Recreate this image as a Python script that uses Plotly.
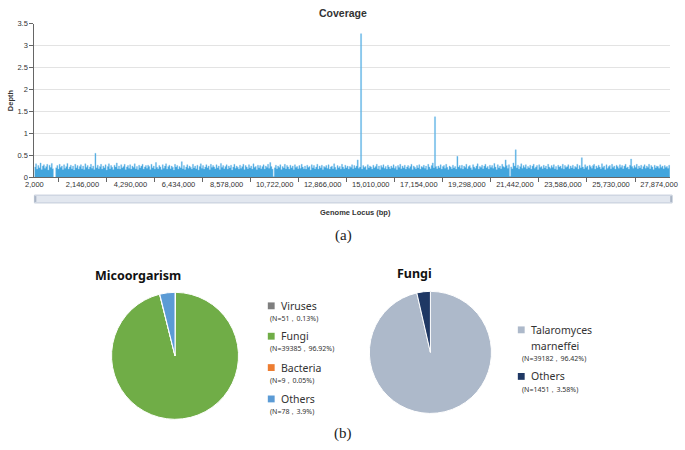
import plotly.graph_objects as go

# ---------------- data ----------------
bin_start = 2000
bin_size = 50000
depth = [
    0.24,0.31,0.19,0.27,0.22,0.33,0.18,0.26,0.29,0.21,0.25,0.3,0.17,0.28,0.23,0.32,0.2,0.0,0.0,0.22,
    0.27,0.19,0.3,0.23,0.26,0.18,0.29,0.21,0.25,0.32,0.19,0.24,0.28,0.2,0.26,0.17,0.3,0.22,0.27,0.19,
    0.25,0.29,0.2,0.26,0.18,0.31,0.23,0.27,0.19,0.24,0.3,0.21,0.26,0.18,0.55,0.22,0.28,0.2,0.25,0.3,
    0.19,0.26,0.22,0.29,0.17,0.25,0.31,0.2,0.27,0.23,0.18,0.28,0.24,0.33,0.2,0.26,0.19,0.29,0.22,0.25,
    0.3,0.18,0.24,0.27,0.21,0.29,0.19,0.26,0.23,0.31,0.2,0.25,0.18,0.28,0.22,0.26,0.3,0.19,0.24,0.27,
    0.21,0.28,0.25,0.18,0.3,0.22,0.26,0.19,0.34,0.23,0.2,0.27,0.24,0.18,0.29,0.21,0.26,0.31,0.19,0.25,
    0.28,0.2,0.26,0.23,0.17,0.3,0.24,0.27,0.19,0.25,0.22,0.36,0.2,0.27,0.18,0.24,0.29,0.21,0.26,0.23,
    0.19,0.3,0.22,0.26,0.2,0.28,0.17,0.25,0.31,0.21,0.27,0.19,0.24,0.29,0.22,0.26,0.18,0.3,0.23,0.27,
    0.24,0.2,0.29,0.22,0.26,0.18,0.32,0.23,0.27,0.2,0.25,0.29,0.19,0.26,0.22,0.28,0.17,0.24,0.3,0.21,
    0.26,0.23,0.19,0.28,0.21,0.25,0.3,0.18,0.27,0.24,0.2,0.29,0.22,0.26,0.19,0.31,0.23,0.25,0.18,0.28,
    0.22,0.27,0.2,0.25,0.29,0.19,0.26,0.23,0.3,0.21,0.34,0.25,0.19,0.02,0.22,0.28,0.2,0.26,0.23,0.29,
    0.18,0.25,0.22,0.3,0.2,0.27,0.24,0.19,0.28,0.22,0.26,0.18,0.29,0.23,0.25,0.2,0.27,0.21,0.3,0.24,
    0.2,0.26,0.19,0.28,0.23,0.25,0.17,0.29,0.22,0.27,0.2,0.24,0.3,0.19,0.26,0.22,0.28,0.18,0.25,0.23,
    0.27,0.21,0.29,0.19,0.24,0.26,0.2,0.31,0.23,0.18,0.27,0.22,0.25,0.19,0.3,0.24,0.2,0.28,0.22,0.26,
    0.19,0.25,0.23,0.29,0.2,0.27,0.22,0.26,0.4,0.21,0.24,3.27,0.19,0.27,0.23,0.25,0.18,0.29,0.22,0.26,
    0.24,0.19,0.28,0.22,0.25,0.3,0.2,0.26,0.18,0.27,0.23,0.29,0.21,0.25,0.19,0.28,0.24,0.2,0.26,0.22,
    0.29,0.21,0.25,0.18,0.27,0.23,0.3,0.2,0.26,0.22,0.28,0.19,0.24,0.27,0.21,0.25,0.3,0.18,0.26,0.23,
    0.2,0.27,0.22,0.29,0.19,0.25,0.23,0.28,0.21,0.26,0.18,0.3,0.24,0.2,0.27,0.33,0.22,1.38,0.25,0.2,
    0.26,0.22,0.29,0.19,0.25,0.27,0.21,0.3,0.23,0.18,0.26,0.24,0.2,0.28,0.22,0.25,0.19,0.48,0.24,0.27,
    0.21,0.28,0.19,0.26,0.23,0.3,0.2,0.25,0.27,0.22,0.18,0.29,0.24,0.21,0.26,0.31,0.19,0.25,0.23,0.28,
    0.2,0.26,0.3,0.22,0.25,0.19,0.28,0.23,0.27,0.21,0.32,0.24,0.18,0.29,0.22,0.26,0.2,0.3,0.25,0.23,
    0.4,0.27,0.21,0.29,0.03,0.24,0.2,0.33,0.26,0.63,0.22,0.28,0.19,0.25,0.31,0.21,0.27,0.23,0.29,0.2,
    0.25,0.22,0.28,0.19,0.26,0.3,0.21,0.24,0.27,0.18,0.29,0.23,0.25,0.2,0.28,0.22,0.26,0.19,0.3,0.24,
    0.21,0.27,0.23,0.29,0.2,0.25,0.18,0.28,0.24,0.26,0.21,0.3,0.19,0.27,0.23,0.25,0.29,0.2,0.26,0.22,
    0.28,0.2,0.25,0.23,0.3,0.19,0.27,0.22,0.45,0.24,0.2,0.29,0.23,0.26,0.18,0.28,0.25,0.21,0.27,0.3,
    0.19,0.26,0.22,0.28,0.24,0.2,0.31,0.23,0.26,0.18,0.29,0.21,0.25,0.27,0.2,0.3,0.23,0.26,0.19,0.28,
    0.25,0.21,0.29,0.23,0.27,0.2,0.26,0.3,0.22,0.24,0.19,0.28,0.42,0.25,0.21,0.27,0.23,0.3,0.2,0.26,
    0.22,0.28,0.19,0.25,0.29,0.21,0.26,0.23,0.3,0.2,0.27,0.24,0.18,0.28,0.22,0.26,0.25,0.21,0.29,0.23,
    0.26,0.2,0.27,0.23,0.25,0.21,0.28,0.22,
]
locus = [bin_start + i * bin_size for i in range(len(depth))]

x_tick_vals = [2000, 2146000, 4290000, 6434000, 8578000, 10722000, 12866000,
               15010000, 17154000, 19298000, 21442000, 23586000, 25730000, 27874000]
x_tick_text = [f"{v:,}" for v in x_tick_vals]
y_tick_vals = [0, 0.5, 1, 1.5, 2, 2.5, 3, 3.5]
y_tick_text = ["0", "0.5", "1", "1.5", "2", "2.5", "3", "3.5"]

micro_labels = ["Viruses", "Fungi", "Bacteria", "Others"]
micro_pct = [0.13, 96.92, 0.05, 3.9]
micro_n = [51, 39385, 9, 78]
micro_colors = ["#7f7f7f", "#70ad47", "#ed7d31", "#5b9bd5"]

fungi_labels = ["Talaromyces marneffei", "Others"]
fungi_pct = [96.42, 3.58]
fungi_n = [39182, 1451]
fungi_colors = ["#adb9ca", "#1f3864"]

# ---------------- figure ----------------
W, H = 685, 450
def px(x):
    return x / W
def py(y):
    return 1 - y / H

fig = go.Figure()

fig.add_trace(go.Scatter(
    x=locus, y=depth, mode="lines", line_shape="hv",
    line=dict(color="rgba(140,200,240,0.8)", width=0.5),
    fill="tozeroy", fillcolor="rgba(40,152,216,0.88)",
    hoverinfo="skip", showlegend=False,
))

fig.add_trace(go.Pie(
    labels=micro_labels, values=micro_pct, sort=False, direction="clockwise",
    rotation=0, marker=dict(colors=micro_colors, line=dict(color="white", width=1)),
    textinfo="none", showlegend=False, hoverinfo="label+percent",
    domain=dict(x=[px(105), px(235)], y=[py(424), py(294)]),
))
fig.add_trace(go.Pie(
    labels=fungi_labels, values=fungi_pct, sort=False, direction="clockwise",
    rotation=0, marker=dict(colors=fungi_colors, line=dict(color="white", width=1)),
    textinfo="none", showlegend=False, hoverinfo="label+percent",
    domain=dict(x=[px(369), px(494)], y=[py(418), py(293)]),
))

sans = "Liberation Sans, Arial, sans-serif"
axis_font = dict(family=sans, size=7.5, color="#333")

fig.update_layout(
    width=W, height=H, margin=dict(l=0, r=0, t=0, b=0),
    paper_bgcolor="white", plot_bgcolor="white",
    xaxis=dict(
        domain=[px(26), px(677)], range=[2000, 28370000],
        tickmode="array", tickvals=x_tick_vals, ticktext=x_tick_text,
        ticks="", tickfont=axis_font, showgrid=False, zeroline=False,
        showline=True, linecolor="#666", linewidth=1,
        minor=dict(tick0=2000 + 1072000, dtick=2144000, ticks="outside",
                   ticklen=4, tickcolor="#666", showgrid=False),
    ),
    yaxis=dict(
        domain=[py(177), py(20)], range=[0, 3.5],
        tickmode="array", tickvals=y_tick_vals, ticktext=y_tick_text,
        ticks="outside", ticklen=4, tickcolor="#666", tickfont=axis_font,
        showgrid=True, gridcolor="#e3e3e3", gridwidth=1, zeroline=False,
        showline=True, linecolor="#666", linewidth=1,
        title=dict(text="<b>Depth</b>", font=dict(family=sans, size=7.5, color="#333"), standoff=2),
    ),
)

# slider bar under the coverage plot
fig.add_shape(type="rect", xref="paper", yref="paper",
              x0=px(26), x1=px(679), y0=py(203), y1=py(195),
              fillcolor="#e2e7ef", line=dict(color="#c3ccd9", width=1), layer="below")
for hx in (26, 677):
    fig.add_shape(type="rect", xref="paper", yref="paper",
                  x0=px(hx), x1=px(hx + 2), y0=py(202), y1=py(196),
                  fillcolor="#aab5c6", line=dict(width=0))

ann = []
def text(x, y, s, size, family="Noto Sans, sans-serif", color="#222", xanchor="center", bold=False):
    if bold:
        s = f"<b>{s}</b>"
    ann.append(dict(x=px(x), y=py(y), xref="paper", yref="paper", text=s, showarrow=False,
                    xanchor=xanchor, yanchor="middle",
                    font=dict(family=family, size=size, color=color)))

text(342, 9, "Coverage", 10.5, family=sans, color="#333", bold=True)
text(355, 213, "Genome Locus (bp)", 7.5, family=sans, color="#333", bold=True)
serif = "Liberation Serif, DejaVu Serif, serif"
text(342, 236, "(a)", 15, family=serif, color="#222")
text(342, 438, "(b)", 15, family=serif, color="#222")

text(132, 277, "Micoorgarism", 12.5, color="#111", bold=True)
text(415, 275, "Fungi", 12.5, color="#111", bold=True)

# legend for micro-organism pie
micro_rows = [308, 339, 371, 403]
for lab, n, pct, col, yy in zip(micro_labels, micro_n, micro_pct, micro_colors, micro_rows):
    fig.add_shape(type="rect", xref="paper", yref="paper",
                  x0=px(265), x1=px(272), y0=py(yy + 3.5), y1=py(yy - 3.5),
                  fillcolor=col, line=dict(width=0))
    text(276, yy, lab, 10.5, color="#333", xanchor="left")
    text(265, yy + 13, f"(N={n}，{pct}%)", 7, color="#333", xanchor="left")

# legend for fungi pie
fig.add_shape(type="rect", xref="paper", yref="paper",
              x0=px(521), x1=px(528), y0=py(336), y1=py(329),
              fillcolor=fungi_colors[0], line=dict(width=0))
text(532, 333, "Talaromyces", 10.5, color="#333", xanchor="left")
text(532, 349, "marneffei", 10.5, color="#333", xanchor="left")
text(523, 362, f"(N={fungi_n[0]}，{fungi_pct[0]}%)", 7, color="#333", xanchor="left")
fig.add_shape(type="rect", xref="paper", yref="paper",
              x0=px(521), x1=px(528), y0=py(383.5), y1=py(376.5),
              fillcolor=fungi_colors[1], line=dict(width=0))
text(532, 380, "Others", 10.5, color="#333", xanchor="left")
text(523, 393, f"(N={fungi_n[1]}，{fungi_pct[1]}%)", 7, color="#333", xanchor="left")

fig.update_layout(annotations=ann)
fig.write_html("out.html", config={"displayModeBar": False},
               post_script="document.body.style.margin='0';document.body.style.overflow='hidden';")
